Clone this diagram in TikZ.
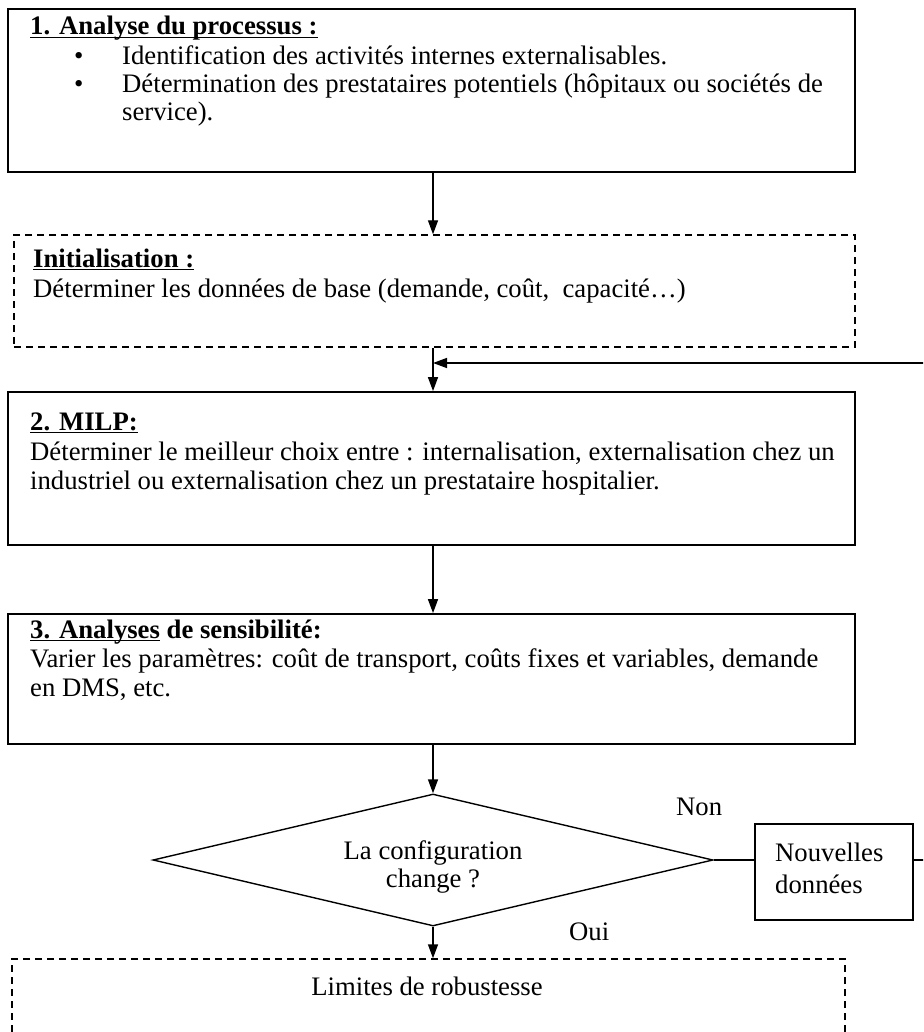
\documentclass[tikz,border=0pt]{standalone}
\usepackage{fontspec}
\setmainfont{Liberation Serif}
\usetikzlibrary{shapes.geometric,arrows.meta}
\newcommand\myul[1]{\setbox0\hbox{#1}\rlap{\rule[-3.2pt]{\wd0}{1.6pt}}\box0\relax}
\begin{document}
\begin{tikzpicture}[x=1pt,y=-1pt,
  every node/.style={font=\fontsize{26.7}{30}\selectfont},
  solidbox/.style={draw,line width=1.8pt,rectangle,inner sep=0pt},
  dashbox/.style={draw,line width=1.4pt,rectangle,inner sep=0pt,dash pattern=on 7pt off 5pt},
  txt/.style={anchor=base west,inner sep=0pt},
  ctxt/.style={anchor=base,inner sep=0pt},
  conn/.style={line width=1.4pt},
  arr/.style={line width=1.4pt,-{Triangle[length=14pt,width=10pt]}}]
\useasboundingbox (0,0) rectangle (923,1032);
\clip (0,0) rectangle (923,1032);
\fill[white] (0,0) rectangle (923,1032);
% box 1
\node[solidbox,minimum width=847pt,minimum height=163pt] (b1) at (431.5,90.5) {};
\node[txt] (t1) at (30,35) {\textbf{\myul{1. Analyse du processus :}}};
\node[txt] (u1) at (74,65) {\textbullet};
\node[txt] (l1a) at (122,65) {Identification des activités internes externalisables.};
\node[txt] (u2) at (74,93) {\textbullet};
\node[txt] (l1b) at (122,93) {Détermination des prestataires potentiels (hôpitaux ou sociétés de};
\node[txt] (l1c) at (122,121) {service).};
% init box
\node[dashbox,minimum width=841pt,minimum height=112pt] (b0) at (434.5,291) {};
\node[txt] (t0) at (33,267) {\textbf{\myul{Initialisation :}}};
\node[txt] (l0) at (33,297) {Déterminer les données de base (demande, coût,\ \ capacité…)};
% box 2
\node[solidbox,minimum width=847pt,minimum height=153pt] (b2) at (431.5,468.5) {};
\node[txt] (t2) at (30,430) {\textbf{\myul{2. MILP:}}};
\node[txt] (l2a) at (30,460) {Déterminer le meilleur choix entre : internalisation, externalisation chez un};
\node[txt] (l2b) at (30,489) {industriel ou externalisation chez un prestataire hospitalier.};
% box 3
\node[solidbox,minimum width=847pt,minimum height=130pt] (b3) at (431.5,679) {};
\node[txt] (t3) at (30,638) {\textbf{\myul{3. Analyses} de sensibilité:}};
\node[txt] (l3a) at (30,667) {Varier les paramètres: coût de transport, coûts fixes et variables, demande};
\node[txt] (l3b) at (30,696) {en DMS, etc.};
% diamond
\node[draw,line width=1.4pt,diamond,inner sep=0pt,minimum width=560pt,minimum height=132pt] (dia) at (433,860) {};
\node[ctxt] (dt1) at (433,859) {La configuration};
\node[ctxt] (dt2) at (433,887) {change ?};
\node[txt] (non) at (676,815) {Non};
\node[txt] (oui) at (569,940) {Oui};
% nouvelles donnees
\node[draw,line width=1.4pt,rectangle,inner sep=0pt,minimum width=158pt,minimum height=96pt] (nd) at (834,872) {};
\node[txt] (nd1) at (775,861) {Nouvelles};
\node[txt] (nd2) at (775,893) {données};
% bottom box
\node[dashbox,minimum width=833pt,minimum height=140pt] (b4) at (428.5,1029) {};
\node[ctxt] (l4) at (427,995) {Limites de robustesse};
% connectors
\coordinate (j) at (433,363);
\coordinate (e1) at (926,860);
\coordinate (e2) at (926,363);
\draw[arr] (b1.south -| 433,0) -- (b0.north -| 433,0);
\draw[arr] (b0.south -| 433,0) -- (b2.north -| 433,0);
\draw[arr] (e2) -- (j);
\draw[arr] (b2.south -| 433,0) -- (b3.north -| 433,0);
\draw[arr] (b3.south -| 433,0) -- (dia.north);
\draw[arr] (dia.south) -- (b4.north -| 433,0);
\draw[conn] (dia.east) -- (nd.west |- dia.east);
\draw[conn] (nd.east |- dia.east) -- (e1);
\end{tikzpicture}
\end{document}
